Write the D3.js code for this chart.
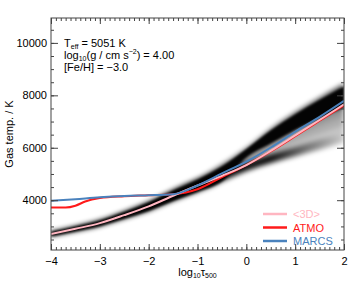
<!DOCTYPE html>
<html>
<head>
<meta charset="utf-8">
<script src="https://cdn.jsdelivr.net/npm/d3@7"></script>
<style>
  body { margin: 0; background: #fff; }
  text { font-family: "Liberation Sans", Arial, sans-serif; }
</style>
</head>
<body>
<div id="chart"></div>
<script>
// Data
const tau = [-4, -3.5, -3, -2.5, -2, -1.5, -1, -0.5, 0, 0.5, 1, 1.5, 2];
const mean3D = [2710, 2910, 3125, 3430, 3765, 4170, 4560, 4930, 5340, 5880, 6470, 7060, 7660];
const marcs = [3975, 4040, 4110, 4160, 4190, 4230, 4560, 5020, 5470, 6010, 6610, 7180, 7790];
const atmoTau = [-4, -3.7, -3.5, -3.3, -3, -2.5, -2, -1.5, -1, -0.5, 0, 0.5, 1, 1.5, 2];
const atmo = [3720, 3720, 3790, 3950, 4080, 4150, 4190, 4230, 4420, 4880, 5340, 5860, 6440, 7030, 7620];

// 3D temperature distribution: outer edges, dark upper branch, dark lower edge
const bandHi = [2810, 3010, 3240, 3570, 3940, 4400, 4820, 5360, 5980, 6720, 7350, 7920, 8450];
const bandLo = [2620, 2820, 3020, 3300, 3600, 3980, 4320, 4720, 5110, 5420, 5680, 5930, 6200];
const upperLo = [2620, 2820, 3020, 3300, 3600, 3980, 4320, 4720, 5640, 6170, 6690, 7140, 7540];
const lowerHi = [2810, 3010, 3240, 3570, 3940, 4400, 4820, 5150, 5420, 5740, 6020, 6300, 6520];

const xTicks = [-4, -3, -2, -1, 0, 1, 2];
const yTicks = [4000, 6000, 8000, 10000];
const params = ["T_eff = 5051 K", "log10(g / cm s-2) = 4.00", "[Fe/H] = −3.0"];
const legendNames = ["<3D>", "ATMO", "MARCS"];
const legendColors = ["#ffb6c1", "#ff1a1a", "#4a82bd"];

const width = 363, height = 281;
const m = { left: 51, right: 19, top: 18, bottom: 31 };

const svg = d3.select("#chart").append("svg")
    .attr("width", width)
    .attr("height", height);

const x = d3.scaleLinear().domain([-4, 2]).range([m.left, width - m.right]);
const y = d3.scaleLinear().domain([2100, 10950]).range([height - m.bottom, m.top]);

const defs = svg.append("defs");
defs.append("clipPath").attr("id", "clip")
  .append("rect")
    .attr("x", x(-4)).attr("y", y(10950))
    .attr("width", x(2) - x(-4)).attr("height", y(2100) - y(10950));
[["blur", 1.2], ["blur2", 2.4]].forEach(([id, s]) => {
  defs.append("filter").attr("id", id)
      .attr("x", "-10%").attr("y", "-20%").attr("width", "120%").attr("height", "140%")
    .append("feGaussianBlur").attr("stdDeviation", s);
});

const grad = defs.append("linearGradient").attr("id", "fade")
    .attr("gradientUnits", "userSpaceOnUse")
    .attr("x1", x(-0.3)).attr("x2", x(2)).attr("y1", 0).attr("y2", 0);
grad.append("stop").attr("offset", 0).attr("stop-color", "#000").attr("stop-opacity", 1);
grad.append("stop").attr("offset", 0.35).attr("stop-color", "#000").attr("stop-opacity", 0.95);
grad.append("stop").attr("offset", 0.65).attr("stop-color", "#000").attr("stop-opacity", 0.5);
grad.append("stop").attr("offset", 1).attr("stop-color", "#000").attr("stop-opacity", 0.1);

const band = (lo, hi) => d3.area()
    .x((d, i) => x(tau[i]))
    .y0((d, i) => y(lo[i]))
    .y1((d, i) => y(hi[i]))
    .curve(d3.curveMonotoneX)(tau);

const g = svg.append("g").attr("clip-path", "url(#clip)");

// spread between the two branches: stacked layers, denser toward the upper branch
const spread = g.append("g").attr("filter", "url(#blur2)");
[0, 0.25, 0.5, 0.75].forEach(k => {
  const lo = bandLo.map((v, i) => v + k * (upperLo[i] - bandLo[i]));
  spread.append("path").attr("d", band(lo, bandHi)).attr("fill", "#000").attr("fill-opacity", 0.12);
});
spread.append("path").attr("d", band(bandLo, lowerHi)).attr("fill", "url(#fade)");
// halo above the upper branch
spread.append("path").attr("d", band(upperLo, bandHi)).attr("fill", "#000").attr("fill-opacity", 0.5);

const dist = g.append("g").attr("filter", "url(#blur)");
dist.append("path").attr("d", band(upperLo, bandHi.map((v, i) => v - (bandHi[i] - upperLo[i]) * 0.12)))
    .attr("fill", "#000").attr("fill-opacity", 0.95);

const line = (xs, ys) => d3.line()
    .x((d, i) => x(xs[i]))
    .y((d, i) => y(ys[i]))
    .curve(d3.curveMonotoneX)(xs);

g.append("path").attr("d", line(atmoTau, atmo))
    .attr("fill", "none").attr("stroke", legendColors[1]).attr("stroke-width", 2);
g.append("path").attr("d", line(tau, mean3D))
    .attr("fill", "none").attr("stroke", legendColors[0]).attr("stroke-width", 2);
g.append("path").attr("d", line(tau, marcs))
    .attr("fill", "none").attr("stroke", legendColors[2]).attr("stroke-width", 2);

// Axes: ticks inward on all four sides
const axisColor = "#444";
const minorX = d3.range(-40, 21).map(d => d / 10);
const minorY = d3.range(2500, 10951, 500);

function styleAxis(sel) {
  sel.select(".domain").remove();
  sel.selectAll("line").attr("stroke", axisColor);
  sel.selectAll("text").attr("fill", "#000").attr("font-size", 11);
}

svg.append("g").attr("transform", `translate(0,${y(2100)})`)
    .call(d3.axisBottom(x).tickValues(minorX).tickSize(-3).tickFormat("")).call(styleAxis);
svg.append("g").attr("transform", `translate(0,${y(2100)})`)
    .call(d3.axisBottom(x).tickValues(xTicks).tickSize(-6).tickPadding(7).tickFormat(d3.format("d"))).call(styleAxis);
svg.append("g").attr("transform", `translate(0,${y(10950)})`)
    .call(d3.axisTop(x).tickValues(minorX).tickSize(-3).tickFormat("")).call(styleAxis);
svg.append("g").attr("transform", `translate(0,${y(10950)})`)
    .call(d3.axisTop(x).tickValues(xTicks).tickSize(-6).tickFormat("")).call(styleAxis);

svg.append("g").attr("transform", `translate(${x(-4)},0)`)
    .call(d3.axisLeft(y).tickValues(minorY).tickSize(-3).tickFormat("")).call(styleAxis);
svg.append("g").attr("transform", `translate(${x(-4)},0)`)
    .call(d3.axisLeft(y).tickValues(yTicks).tickSize(-7).tickPadding(4).tickFormat(d3.format("d"))).call(styleAxis);
svg.append("g").attr("transform", `translate(${x(2)},0)`)
    .call(d3.axisRight(y).tickValues(minorY).tickSize(-3).tickFormat("")).call(styleAxis);
svg.append("g").attr("transform", `translate(${x(2)},0)`)
    .call(d3.axisRight(y).tickValues(yTicks).tickSize(-7).tickFormat("")).call(styleAxis);

svg.append("rect")
    .attr("x", x(-4)).attr("y", y(10950))
    .attr("width", x(2) - x(-4)).attr("height", y(2100) - y(10950))
    .attr("fill", "none").attr("stroke", axisColor).attr("stroke-width", 1);

// Axis titles
const xt = svg.append("text").attr("x", (x(-4) + x(2)) / 2).attr("y", 276)
    .attr("text-anchor", "middle").attr("font-size", 11);
xt.append("tspan").text("log");
xt.append("tspan").text("10").attr("font-size", 7).attr("dy", 2);
xt.append("tspan").text("τ").attr("dy", -2);
xt.append("tspan").text("500").attr("font-size", 7).attr("dy", 2);

svg.append("text")
    .attr("transform", `translate(13,${(y(2100) + y(10950)) / 2}) rotate(-90)`)
    .attr("text-anchor", "middle").attr("font-size", 11)
    .text("Gas temp. / K");

// Stellar parameters
const p = svg.append("g").attr("font-size", 11);
const t1 = p.append("text").attr("x", 64).attr("y", 47);
t1.append("tspan").text("T");
t1.append("tspan").text("eff").attr("font-size", 7).attr("dy", 2);
t1.append("tspan").text(params[0].slice(5)).attr("dy", -2);
const t2 = p.append("text").attr("x", 64).attr("y", 59);
t2.append("tspan").text("log");
t2.append("tspan").text("10").attr("font-size", 7).attr("dy", 2);
t2.append("tspan").text("(g / cm s").attr("dy", -2);
t2.append("tspan").text("−2").attr("font-size", 7).attr("dy", -5);
t2.append("tspan").text(") = 4.00").attr("dy", 5);
p.append("text").attr("x", 64).attr("y", 71).text(params[2]);

// Legend
const leg = svg.append("g").selectAll("g").data(legendNames).join("g")
    .attr("transform", (d, i) => `translate(263,${214 + i * 13.5})`);
leg.append("line").attr("x1", 0).attr("x2", 24)
    .attr("stroke", (d, i) => legendColors[i]).attr("stroke-width", 2.5);
leg.append("text").attr("x", 30).attr("y", 4).attr("font-size", 11)
    .attr("fill", (d, i) => legendColors[i]).text(d => d);
</script>
</body>
</html>
